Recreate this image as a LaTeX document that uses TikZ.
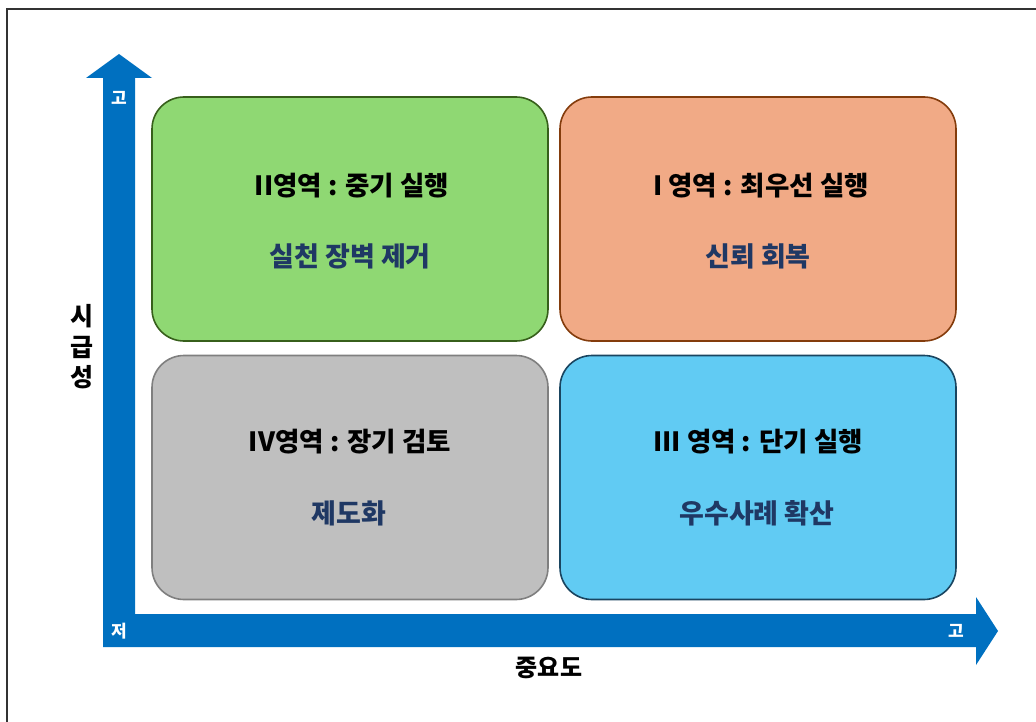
\documentclass[tikz,border=0pt]{standalone}
\usepackage{fontspec}
\setmainfont{Noto Sans CJK KR}
\definecolor{axisblue}{HTML}{0070C0}
\definecolor{gfill}{HTML}{8FD873}
\definecolor{gline}{HTML}{375F1B}
\definecolor{ofill}{HTML}{F1AA86}
\definecolor{oline}{HTML}{843C0C}
\definecolor{kfill}{HTML}{BFBFBF}
\definecolor{kline}{HTML}{7F7F7F}
\definecolor{bfill}{HTML}{61CBF3}
\definecolor{bline}{HTML}{1A4560}
\definecolor{navy}{HTML}{1F3864}
\definecolor{framec}{HTML}{333333}
\begin{document}
\begin{tikzpicture}[x=1pt,y=-1pt,
  quad/.style={rounded corners=32pt, line width=1.6pt, minimum width=396pt, minimum height=244pt, inner sep=0pt},
  title/.style={font=\bfseries\fontsize{26.5}{30}\selectfont, text=black, inner sep=0pt},
  sub/.style={font=\bfseries\fontsize{27}{30}\selectfont, text=navy, inner sep=0pt},
  tick/.style={font=\bfseries\fontsize{17}{20}\selectfont, text=white, inner sep=0pt},
  axlabel/.style={font=\bfseries\fontsize{25}{30.5}\selectfont, text=black, inner sep=0pt, align=center},
  xlabel/.style={font=\bfseries\fontsize{24}{28}\selectfont, text=black, inner sep=0pt}]
\useasboundingbox (0,0) rectangle (1036,722);
% frame
\draw[framec, line width=2pt] (7,722) -- (7,9) -- (1036,9);
% axes
\fill[axisblue] (103,647) -- (103,78) -- (86,78) -- (119,54) -- (152,78) -- (135,78)
  -- (135,614) -- (976,614) -- (976,597) -- (998,631) -- (976,665) -- (976,647) -- cycle;
\node[tick] (hiY) at (119,98) {고};
\node[tick] (lo) at (119,631) {저};
\node[tick] (hiX) at (956,631) {고};
\node[axlabel] (ylab) at (82,347) {시\\급\\성};
\node[xlabel] (xlab) at (549,668) {중요도};
% quadrants
\node[quad, fill=gfill, draw=gline] (q2) at (350,219) {};
\node[quad, fill=ofill, draw=oline] (q1) at (758,219) {};
\node[quad, fill=kfill, draw=kline] (q4) at (350,477.5) {};
\node[quad, fill=bfill, draw=bline] (q3) at (758,477.5) {};
% texts
\node[title] (t2) at (352,186) {II영역 : 중기 실행};
\node[sub] (s2) at (350,256) {실천 장벽 제거};
\node[title] (t1) at (761,186) {I 영역 : 최우선 실행};
\node[sub] (s1) at (758,256) {신뢰 회복};
\node[title] (t4) at (350,442) {IV영역 : 장기 검토};
\node[sub] (s4) at (349,513) {제도화};
\node[title] (t3) at (758,442) {III 영역 : 단기 실행};
\node[sub] (s3) at (757,513) {우수사례 확산};
\end{tikzpicture}
\end{document}
